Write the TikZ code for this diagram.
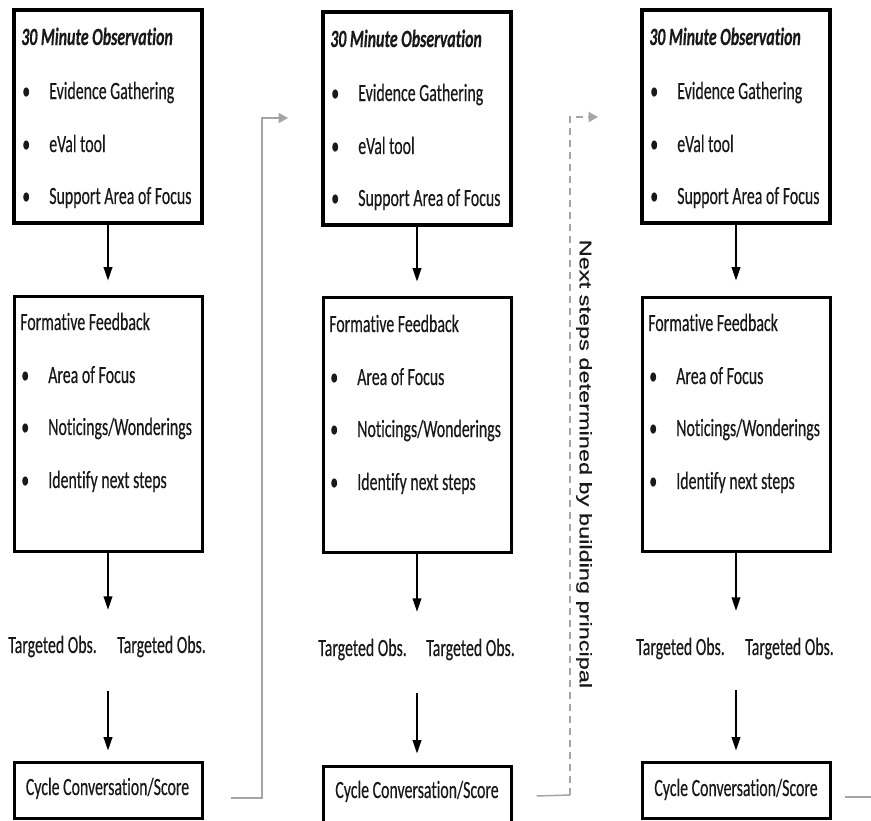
\documentclass[tikz,border=0pt]{standalone}
\usepackage{fontspec}
\setmainfont{Carlito}[FakeStretch=0.64,FakeBold=0.35,Ligatures=NoCommon]
\newfontfamily\nsfont{Liberation Sans}[FakeStretch=1.4,FakeBold=0.6]
\usetikzlibrary{arrows.meta,fit}
\definecolor{conngray}{HTML}{A5A5A5}
\newcommand\bul{\makebox[20.25pt][l]{\textbullet}}
\begin{document}
\begin{tikzpicture}[x=0.75pt,y=-0.75pt,
  box/.style={draw=black, line width=2.25pt, inner sep=0pt},
  obox/.style={box, line width=2.6pt},
  txt/.style={inner sep=0pt, font=\fontsize{18.6}{22}\selectfont, text=black!90},
  ttl/.style={txt, font=\fontsize{18.6}{22}\selectfont\bfseries\itshape},
  side/.style={inner sep=0pt, font=\nsfont\fontsize{12.6}{15}\selectfont, text=black!90, rotate=-90},
  gap/.style={inner sep=0pt, minimum width=1pt},
  arr/.style={draw=black, line width=1.1pt, -{Triangle[length=10pt,width=6.5pt]}},
  conn/.style={draw=conngray, line width=1.1pt, -{Triangle[length=7pt,width=7.5pt]}},
  connend/.style={draw=conngray, line width=1.1pt}
]
\clip (0,0) rectangle (871,821);
\fill[white] (0,0) rectangle (871,821);

% ---------- column 1 ----------
\node[obox, fit={(14,10) (202,223)}] (ob1) {};
\node[box, fit={(14,296) (202,551)}] (ff1) {};
\node[box, fit={(14,762) (202,818)}] (cy1) {};
\node[gap, minimum height=60.75pt] (tg1) at (108,650.5) {};

\node[ttl, anchor=base west] (ob1t) at (21,45) {30 Minute Observation};
\node[txt, anchor=base west] (ob1a) at (22,99) {\bul Evidence Gathering};
\node[txt, anchor=base west] (ob1b) at (22,152) {\bul eVal tool};
\node[txt, anchor=base west] (ob1c) at (22,204) {\bul Support Area of Focus};
\node[txt, anchor=base west] (ff1t) at (20,330) {Formative Feedback};
\node[txt, anchor=base west] (ff1a) at (21,383) {\bul Area of Focus};
\node[txt, anchor=base west] (ff1b) at (21,435) {\bul Noticings/Wonderings};
\node[txt, anchor=base west] (ff1c) at (21,488) {\bul Identify next steps};
\node[txt, anchor=base west] (to1a) at (8,653) {Targeted Obs.};
\node[txt, anchor=base west] (to1b) at (117,653) {Targeted Obs.};
\node[txt, anchor=base] (cy1t) at (107.5,795) {Cycle Conversation/Score};

\draw[arr, shorten >=10.5pt] (ob1.south) -- (ff1.north);
\draw[arr] (ff1.south) -- (tg1.north);
\draw[arr, shorten >=7.5pt] (tg1.south) -- (cy1.north);

% ---------- column 2 ----------
\node[obox, fit={(323,12) (511,225)}] (ob2) {};
\node[box, fit={(323,297) (511,552)}] (ff2) {};
\node[box, fit={(323,766) (511,832)}] (cy2) {};
\node[gap, minimum height=60.75pt] (tg2) at (417,652.5) {};

\node[ttl, anchor=base west] (ob2t) at (330,47) {30 Minute Observation};
\node[txt, anchor=base west] (ob2a) at (331,101) {\bul Evidence Gathering};
\node[txt, anchor=base west] (ob2b) at (331,154) {\bul eVal tool};
\node[txt, anchor=base west] (ob2c) at (331,206) {\bul Support Area of Focus};
\node[txt, anchor=base west] (ff2t) at (329,332) {Formative Feedback};
\node[txt, anchor=base west] (ff2a) at (330,385) {\bul Area of Focus};
\node[txt, anchor=base west] (ff2b) at (330,437) {\bul Noticings/Wonderings};
\node[txt, anchor=base west] (ff2c) at (330,490) {\bul Identify next steps};
\node[txt, anchor=base west] (to2a) at (318,656) {Targeted Obs.};
\node[txt, anchor=base west] (to2b) at (426,656) {Targeted Obs.};
\node[txt, anchor=base] (cy2t) at (417,798) {Cycle Conversation/Score};

\draw[arr, shorten >=10.5pt] (ob2.south) -- (ff2.north);
\draw[arr] (ff2.south) -- (tg2.north);
\draw[arr, shorten >=8.25pt] (tg2.south) -- (cy2.north);

% ---------- column 3 ----------
\node[obox, fit={(642,10) (830,223)}] (ob3) {};
\node[box, fit={(642,297) (830,551)}] (ff3) {};
\node[box, fit={(642,762) (830,818)}] (cy3) {};
\node[gap, minimum height=59.25pt] (tg3) at (736,650.5) {};

\node[ttl, anchor=base west] (ob3t) at (649,45) {30 Minute Observation};
\node[txt, anchor=base west] (ob3a) at (650,99) {\bul Evidence Gathering};
\node[txt, anchor=base west] (ob3b) at (650,152) {\bul eVal tool};
\node[txt, anchor=base west] (ob3c) at (650,204) {\bul Support Area of Focus};
\node[txt, anchor=base west] (ff3t) at (648,331) {Formative Feedback};
\node[txt, anchor=base west] (ff3a) at (649,384) {\bul Area of Focus};
\node[txt, anchor=base west] (ff3b) at (649,436) {\bul Noticings/Wonderings};
\node[txt, anchor=base west] (ff3c) at (649,489) {\bul Identify next steps};
\node[txt, anchor=base west] (to3a) at (636,655) {Targeted Obs.};
\node[txt, anchor=base west] (to3b) at (745,655) {Targeted Obs.};
\node[txt, anchor=base] (cy3t) at (736,796) {Cycle Conversation/Score};

\draw[arr, shorten >=11.25pt] (ob3.south) -- (ff3.north);
\draw[arr] (ff3.south) -- (tg3.north);
\draw[arr, shorten >=7.5pt] (tg3.south) -- (cy3.north);

% ---------- connectors between cycles ----------
\coordinate (k1) at (262,118);
\coordinate (k1e) at (288,118);
\draw[conn] ([shift={(27,8)}]cy1.east) -| (k1) -- (k1e);

\coordinate (k2b) at (570,795);
\coordinate (k2) at (570,117);
\coordinate (k2e) at (598,117);
\draw[connend] ([shift={(24,-3)}]cy2.east) -- (k2b);
\draw[conn, dash pattern=on 5pt off 4pt] (k2b) -- (k2) -- (k2e);

\coordinate (k3e) at (880,797);
\draw[connend] ([shift={(13,7)}]cy3.east) -- (k3e);

\node[side] (ns) at (584,464) {Next steps determined by building principal};
\end{tikzpicture}
\end{document}
